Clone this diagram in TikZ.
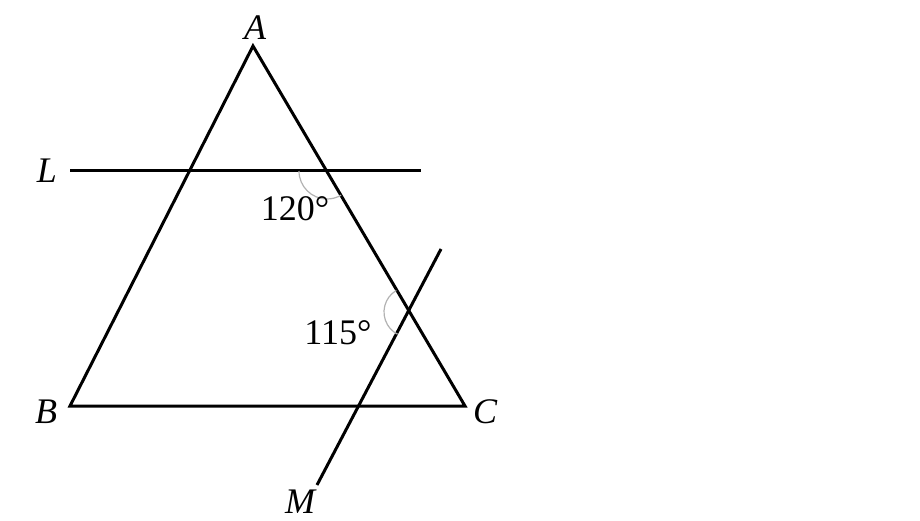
\documentclass[tikz,border=0pt]{standalone}
\usepackage{fontspec}
\setmainfont{Liberation Serif}
\usepackage{tikz}

\begin{document}
\begin{tikzpicture}[x=0.5pt,y=0.5pt,
line width=1.5pt,
lbl/.style={font=\fontsize{18}{21}\selectfont\itshape,inner sep=1pt},
ang/.style={font=\fontsize{18}{21}\selectfont},
angarc/.style={draw=gray!60,line width=0.6pt}]
\useasboundingbox (0,0) rectangle (920,520);
\coordinate (A) at (253,474);
\coordinate (B) at (70,114);
\coordinate (C) at (465,114);
\coordinate (L1) at (70,349);
\coordinate (L2) at (421,349);
\coordinate (M1) at (441,271);
\coordinate (M2) at (317,35);
\coordinate (P) at (327,349);
\coordinate (Q) at (409,208);
% triangle and the two lines
\draw[line join=miter] (A) -- (B) -- (C) -- cycle;
\draw (L1) -- (L2);
\draw (M1) -- (M2);
% angle marks
\draw[angarc] ([shift={(180:14pt)}]P) arc (180:300:14pt);
\draw[angarc] ([shift={(120.5:12.5pt)}]Q) arc (120.5:242.7:12.5pt);
% labels
\node[lbl] (labA) at (255,492) {A};
\node[lbl] (labL) at (47,349) {L};
\node[lbl] (labB) at (46,108) {B};
\node[lbl] (labC) at (485,108) {C};
\node[lbl] (labM) at (300,18) {M};
\node[ang] (a120) at (295,311) {120°};
\node[ang] (a115) at (338,187) {115°};
\end{tikzpicture}
\end{document}
